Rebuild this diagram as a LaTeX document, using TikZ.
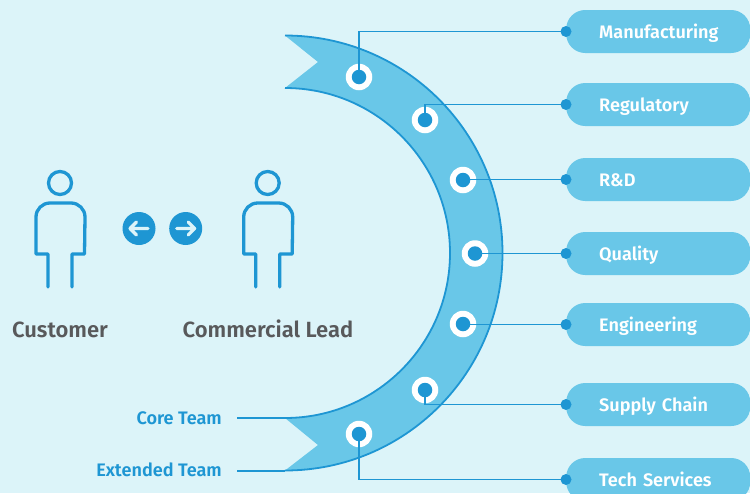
\documentclass[tikz,border=0pt]{standalone}
\usepackage{fontspec}
\setmainfont{Fira Sans}[BoldFont={Fira Sans SemiBold}]
\definecolor{bgc}{HTML}{DCF4F9}
\definecolor{bandc}{HTML}{69C7E8}
\definecolor{darkb}{HTML}{1E96D3}
\definecolor{greyt}{HTML}{58595B}
\tikzset{
  pill/.style={rectangle,rounded corners=19pt,fill=bandc,minimum height=43pt,text width=151pt,align=left,inner xsep=16.5pt,inner ysep=0pt,text=white,font=\fontsize{18.1}{20}\selectfont\bfseries,anchor=west,text height=13pt,text depth=0pt,execute at begin node=\hspace*{16.5pt}},
  ring/.style={circle,fill=white,minimum size=26.5pt,inner sep=0pt},
  core/.style={circle,fill=darkb,minimum size=14.5pt,inner sep=0pt},
  port/.style={circle,fill=darkb,minimum size=11pt,inner sep=0pt},
  link/.style={darkb,line width=1.1pt},
  edgeline/.style={darkb,line width=1.8pt},
  person/.style={darkb,line width=3.3pt,line cap=round,line join=round},
  lead/.style={text=greyt,font=\fontsize{22}{24}\selectfont\bfseries,text height=15.5pt,text depth=0pt,inner sep=0pt},
  team/.style={text=darkb,font=\fontsize{18.1}{20}\selectfont\bfseries,anchor=east,inner sep=0pt,text height=13pt,text depth=0pt},
  arrowdisc/.style={circle,fill=darkb,minimum size=33pt,inner sep=0pt},
  arrowmark/.style={bgc,line width=3.2pt,line cap=round,line join=round}
}
\begin{document}
\begin{tikzpicture}[x=1pt,y=-1pt]
\useasboundingbox (0,0) rectangle (750,493);
\clip (0,0) rectangle (750,493);
\fill[bgc] (0,0) rectangle (750,493);
% band
\fill[bandc] (285,35.5) arc[start angle=-90,end angle=90,radius=217.5] -- (318,445) -- (285,418) arc[start angle=90,end angle=-90,radius=165] -- (318,62) -- cycle;
\draw[edgeline] (285,35.5) arc[start angle=-90,end angle=90,radius=217.5];
\draw[edgeline] (285,88) arc[start angle=-90,end angle=90,radius=165];
% pills
\node[pill] (p1) at (566,31.5) {Manufacturing};
\node[pill] (p2) at (566,104.5) {Regulatory};
\node[pill] (p3) at (566,179.5) {R\&D};
\node[pill] (p4) at (566,253.5) {Quality};
\node[pill] (p5) at (566,324.5) {Engineering};
\node[pill] (p6) at (566,404.5) {Supply Chain};
\node[pill] (p7) at (566,479.5) {Tech Services};
% rings
\node[ring] (r1) at (359,77) {};
\node[ring] (r2) at (425,120) {};
\node[ring] (r3) at (463,180) {};
\node[ring] (r4) at (475,253.5) {};
\node[ring] (r5) at (463,324) {};
\node[ring] (r6) at (425,390) {};
\node[ring] (r7) at (359,434) {};
% connectors
\draw[link] (r1.center) |- (p1.west);
\draw[link] (r2.center) |- (p2.west);
\draw[link] (r3.center) |- (p3.west);
\draw[link] (r4.center) |- (p4.west);
\draw[link] (r5.center) |- (p5.west);
\draw[link] (r6.center) |- (p6.west);
\draw[link] (r7.center) |- (p7.west);
% ring centres and ports
\foreach \n in {1,...,7}{
  \node[core] (c\n) at (r\n.center) {};
  \node[port] (q\n) at (p\n.west) {};
}
% persons
\node[circle,draw=darkb,line width=3.3pt,minimum size=23pt,inner sep=0pt] (h1) at (60,183) {};
\node[circle,draw=darkb,line width=3.3pt,minimum size=23pt,inner sep=0pt] (h2) at (267.7,183) {};
\foreach \dx in {0,207.7}{
  \draw[person,xshift=\dx pt] (48,287) -- (48,254) -- (36,254) -- (36,217) arc[start angle=180,end angle=270,radius=14] -- (71,203) arc[start angle=270,end angle=360,radius=14] -- (84.5,254) -- (72,254) -- (72,287);
}
% arrows
\node[arrowdisc] (a1) at (139,228.5) {};
\node[arrowdisc] (a2) at (185.7,228.5) {};
\draw[arrowmark] (a1.center) ++(9,0) -- ++(-18,0) ++(6.5,-6.5) -- ++(-6.5,6.5) -- ++(6.5,6.5);
\draw[arrowmark] (a2.center) ++(-9,0) -- ++(18,0) ++(-6.5,-6.5) -- ++(6.5,6.5) -- ++(-6.5,6.5);
% labels
\node[lead] (customer) at (60,330) {Customer};
\node[lead] (commercial) at (268,330) {Commercial Lead};
\node[team] (coret) at (222,417.5) {Core Team};
\node[team] (extt) at (222,469.5) {Extended Team};
\coordinate (cs) at (285,418);
\coordinate (es) at (285,471);
\draw[edgeline] ([xshift=15pt]coret.east |- cs) -- (cs);
\draw[edgeline] ([xshift=15pt]extt.east |- es) -- (es);
\end{tikzpicture}
\end{document}
